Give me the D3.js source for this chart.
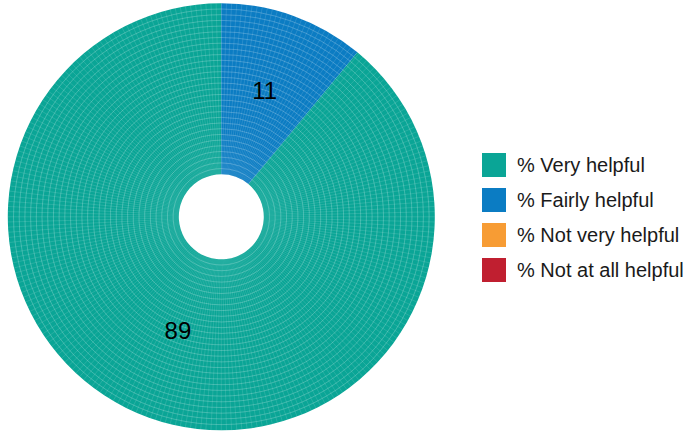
<!DOCTYPE html>
<html><head><meta charset="utf-8">
<script src="https://cdn.jsdelivr.net/npm/d3@7"></script>
<style>body{margin:0;background:#fff}svg{display:block}</style>
</head><body>
<svg id="chart" width="684" height="432"></svg>
<script>
const categories = ["% Very helpful", "% Fairly helpful", "% Not very helpful", "% Not at all helpful"];
const values = [89, 11, 0, 0];
const colors = ["#0aa596", "#0b7cc3", "#f79c34", "#c01f30"];
const labelValues = ["89", "11", "", ""];

const svg = d3.select("#chart");
const cx = 221.3, cy = 216.8, rOuter = 213.5, rInner = 42.5;

const pie = d3.pie().sort(null).value(d => d.v).startAngle(0).endAngle(-2 * Math.PI);
const data = categories.map((c, i) => ({ c, v: values[i], col: colors[i], lab: labelValues[i] }));
const arcs = pie(data);
const arc = d3.arc().innerRadius(rInner).outerRadius(rOuter);

const g = svg.append("g").attr("transform", `translate(${cx},${cy})`);
g.selectAll("path.slice").data(arcs.filter(a => a.data.v > 0)).join("path")
  .attr("class", "slice").attr("d", arc).attr("fill", d => d.data.col);

// faint mesh texture like the original rendering
const tex = g.append("g").attr("stroke", "rgba(255,255,255,0.2)").attr("stroke-width", 0.6).attr("fill", "none");
const nRings = 30, nSpokes = 260;
arcs.filter(a => a.data.v > 0).forEach(a => {
  const a0 = Math.min(a.startAngle, a.endAngle), a1 = Math.max(a.startAngle, a.endAngle);
  for (let k = 1; k < nRings; k++) {
    const r = rInner + (rOuter - rInner) * k / nRings;
    tex.append("path").attr("d", d3.arc().innerRadius(r).outerRadius(r)({ startAngle: a0, endAngle: a1 }));
  }
  const step = 2 * Math.PI / nSpokes;
  for (let t = Math.ceil(a0 / step) * step; t < a1; t += step) {
    if (Math.abs(t - a0) < 1e-6) continue;
    tex.append("line")
      .attr("x1", rInner * Math.sin(t)).attr("y1", -rInner * Math.cos(t))
      .attr("x2", rOuter * Math.sin(t)).attr("y2", -rOuter * Math.cos(t));
  }
});

g.selectAll("text.lab").data(arcs.filter(a => a.data.v > 0)).join("text")
  .attr("class", "lab")
  .attr("transform", d => `translate(${arc.centroid(d)})`)
  .attr("text-anchor", "middle").attr("dy", "0.09em")
  .attr("font-family", "Liberation Sans, Arial, sans-serif").attr("font-size", 24)
  .attr("fill", "#000").text(d => d.data.lab);

const legend = svg.append("g").attr("transform", "translate(482,153)");
const items = legend.selectAll("g").data(data).join("g")
  .attr("transform", (d, i) => `translate(0,${i * 35})`);
items.append("rect").attr("width", 24).attr("height", 24).attr("fill", d => d.col);
items.append("text").attr("x", 35).attr("y", 12).attr("dy", "0.36em")
  .attr("font-family", "Liberation Sans, Arial, sans-serif").attr("font-size", 20)
  .attr("fill", "#1a1a1a").text(d => d.c);
</script>
</body></html>
